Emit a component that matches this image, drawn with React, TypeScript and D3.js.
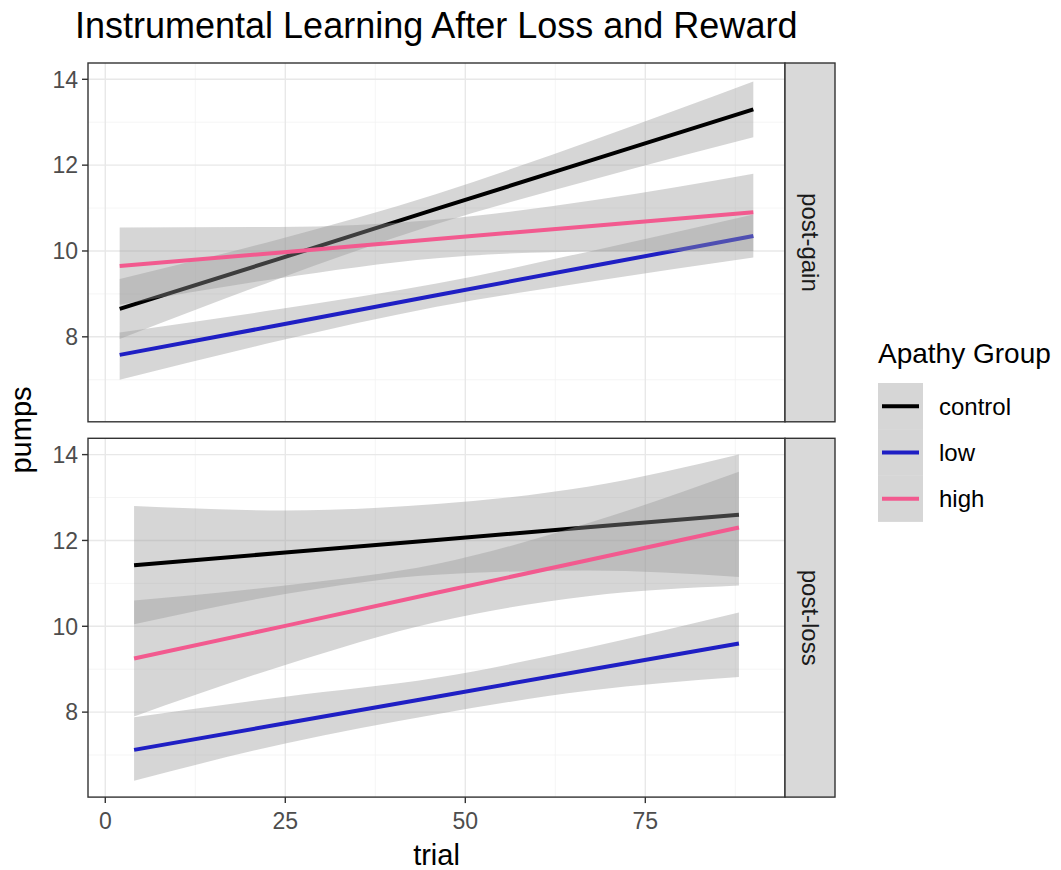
import React from "react";
import * as d3 from "d3";

// facets and groups
const facets = ["post-gain", "post-loss"];
const groups = ["control", "low", "high"];
const groupColors = ["#000000", "#1f1fc4", "#f25a8f"];

// trials where the fits were read
const gainTrials = [2, 24, 46, 68, 90];
const lossTrials = [4, 25, 46, 67, 88];

// post-gain fits and ribbons
const gainControlFit = [8.65, 9.81, 10.98, 12.14, 13.3];
const gainControlLo = [7.95, 9.35, 10.63, 11.68, 12.65];
const gainControlHi = [9.35, 10.27, 11.33, 12.6, 13.95];
const gainLowFit = [7.58, 8.27, 8.97, 9.66, 10.35];
const gainLowLo = [7.0, 7.9, 8.7, 9.3, 9.85];
const gainLowHi = [8.1, 8.64, 9.24, 10.02, 10.85];
const gainHighFit = [9.65, 9.96, 10.28, 10.59, 10.9];
const gainHighLo = [8.75, 9.36, 9.83, 9.99, 10.0];
const gainHighHi = [10.55, 10.56, 10.73, 11.19, 11.8];

// post-loss fits and ribbons
const lossControlFit = [11.42, 11.72, 12.01, 12.31, 12.6];
const lossControlLo = [10.05, 10.75, 11.2, 11.3, 11.15];
const lossControlHi = [12.8, 12.7, 12.85, 13.25, 14.0];
const lossLowFit = [7.12, 7.74, 8.36, 8.98, 9.6];
const lossLowLo = [6.4, 7.27, 7.95, 8.5, 8.82];
const lossLowHi = [7.88, 8.36, 8.8, 9.5, 10.32];
const lossHighFit = [9.25, 10.01, 10.78, 11.54, 12.3];
const lossHighLo = [7.9, 9.1, 10.1, 10.7, 10.95];
const lossHighHi = [10.6, 10.95, 11.45, 12.4, 13.6];

const xTicks = [0, 25, 50, 75];
const xMinor = [12.5, 37.5, 62.5, 87.5];
const yTicks = [8, 10, 12, 14];
const yMinor = [7, 9, 11, 13];

type Pt = { x: number; fit: number; lo: number; hi: number };

function series(trials: number[], fit: number[], lo: number[], hi: number[]): Pt[] {
  return trials.map((x, i) => ({ x, fit: fit[i], lo: lo[i], hi: hi[i] }));
}

const panelData: Pt[][][] = [
  [
    series(gainTrials, gainControlFit, gainControlLo, gainControlHi),
    series(gainTrials, gainLowFit, gainLowLo, gainLowHi),
    series(gainTrials, gainHighFit, gainHighLo, gainHighHi),
  ],
  [
    series(lossTrials, lossControlFit, lossControlLo, lossControlHi),
    series(lossTrials, lossLowFit, lossLowLo, lossLowHi),
    series(lossTrials, lossHighFit, lossHighLo, lossHighHi),
  ],
];

const FONT = "'Liberation Sans', Arial, Helvetica, sans-serif";

export default function App() {
  const W = 1061;
  const H = 870;
  const left = 88;
  const right = 785;
  const stripW = 50;
  const panelTops = [63, 438.3];
  const panelH = 358.8;

  const all = panelData.flat(2);
  const xExt = d3.extent(all, (d) => d.x) as [number, number];
  const yLo = d3.min(all, (d) => d.lo) as number;
  const yHi = d3.max(all, (d) => d.hi) as number;
  const xPad = (xExt[1] - xExt[0]) * 0.05;
  const yPad = (yHi - yLo) * 0.05;

  const x = d3.scaleLinear().domain([xExt[0] - xPad, xExt[1] + xPad]).range([left, right]);
  const y = d3.scaleLinear().domain([yLo - yPad, yHi + yPad]).range([panelH, 0]);

  // smooth the confidence bands between read points
  const area = d3
    .area<Pt>()
    .x((d) => x(d.x))
    .y0((d) => y(d.lo))
    .y1((d) => y(d.hi))
    .curve(d3.curveMonotoneX);
  const line = d3
    .line<Pt>()
    .x((d) => x(d.x))
    .y((d) => y(d.fit));

  const keyTop = 383;
  const keyH = 46.3;

  return (
    <svg
      width={W}
      height={H}
      style={{ position: "absolute", left: 0, top: 0, background: "#fff" }}
      fontFamily={FONT}
    >
      <text x={75} y={38} fontSize={36} fill="#000">
        Instrumental Learning After Loss and Reward
      </text>

      {facets.map((f, fi) => (
        <g key={f} transform={`translate(0,${panelTops[fi]})`}>
          <rect x={left} y={0} width={right - left} height={panelH} fill="#fff" />
          {yMinor.map((t) => (
            <line key={"ym" + t} x1={left} x2={right} y1={y(t)} y2={y(t)} stroke="#f2f2f2" strokeWidth={0.8} />
          ))}
          {xMinor.map((t) => (
            <line key={"xm" + t} x1={x(t)} x2={x(t)} y1={0} y2={panelH} stroke="#f2f2f2" strokeWidth={0.8} />
          ))}
          {yTicks.map((t) => (
            <line key={"yM" + t} x1={left} x2={right} y1={y(t)} y2={y(t)} stroke="#e8e8e8" strokeWidth={1.4} />
          ))}
          {xTicks.map((t) => (
            <line key={"xM" + t} x1={x(t)} x2={x(t)} y1={0} y2={panelH} stroke="#e8e8e8" strokeWidth={1.4} />
          ))}

          {panelData[fi].map((s, gi) => (
            <g key={groups[gi]}>
              <path d={area(s) ?? ""} fill="#999999" fillOpacity={0.4} />
              <path d={line(s) ?? ""} fill="none" stroke={groupColors[gi]} strokeWidth={4} />
            </g>
          ))}

          <rect x={left} y={0} width={right - left} height={panelH} fill="none" stroke="#333" strokeWidth={1.4} />

          {/* y axis */}
          {yTicks.map((t) => (
            <g key={"yt" + t}>
              <line x1={left - 6} x2={left} y1={y(t)} y2={y(t)} stroke="#333" strokeWidth={1.4} />
              <text x={left - 10} y={y(t)} dy="0.36em" textAnchor="end" fontSize={23} fill="#4d4d4d">
                {t}
              </text>
            </g>
          ))}

          {/* strip */}
          <rect x={right} y={0} width={stripW} height={panelH} fill="#d9d9d9" stroke="#333" strokeWidth={1.4} />
          <text
            transform={`translate(${right + stripW / 2},${panelH / 2}) rotate(90)`}
            textAnchor="middle"
            dy="0.35em"
            fontSize={24}
            fill="#1a1a1a"
          >
            {f}
          </text>
        </g>
      ))}

      {/* x axis */}
      {xTicks.map((t) => (
        <g key={"xt" + t}>
          <line x1={x(t)} x2={x(t)} y1={panelTops[1] + panelH} y2={panelTops[1] + panelH + 6} stroke="#333" strokeWidth={1.4} />
          <text x={x(t)} y={829} textAnchor="middle" fontSize={23} fill="#4d4d4d">
            {t}
          </text>
        </g>
      ))}
      <text x={(left + right) / 2} y={865} textAnchor="middle" fontSize={29} fill="#000">
        trial
      </text>
      <text transform={`translate(31,430) rotate(-90)`} textAnchor="middle" fontSize={29} fill="#000">
        pumps
      </text>

      {/* legend */}
      <text x={878} y={363} fontSize={28} fill="#000">
        Apathy Group
      </text>
      {groups.map((g, gi) => {
        const cy = keyTop + keyH * gi + keyH / 2;
        return (
          <g key={"lg" + g}>
            <rect x={878} y={keyTop + keyH * gi} width={45} height={keyH} fill="#999999" fillOpacity={0.4} />
            <line x1={882} x2={919} y1={cy} y2={cy} stroke={groupColors[gi]} strokeWidth={4} />
            <text x={939} y={cy} dy="0.35em" fontSize={24} fill="#000">
              {g}
            </text>
          </g>
        );
      })}
    </svg>
  );
}
